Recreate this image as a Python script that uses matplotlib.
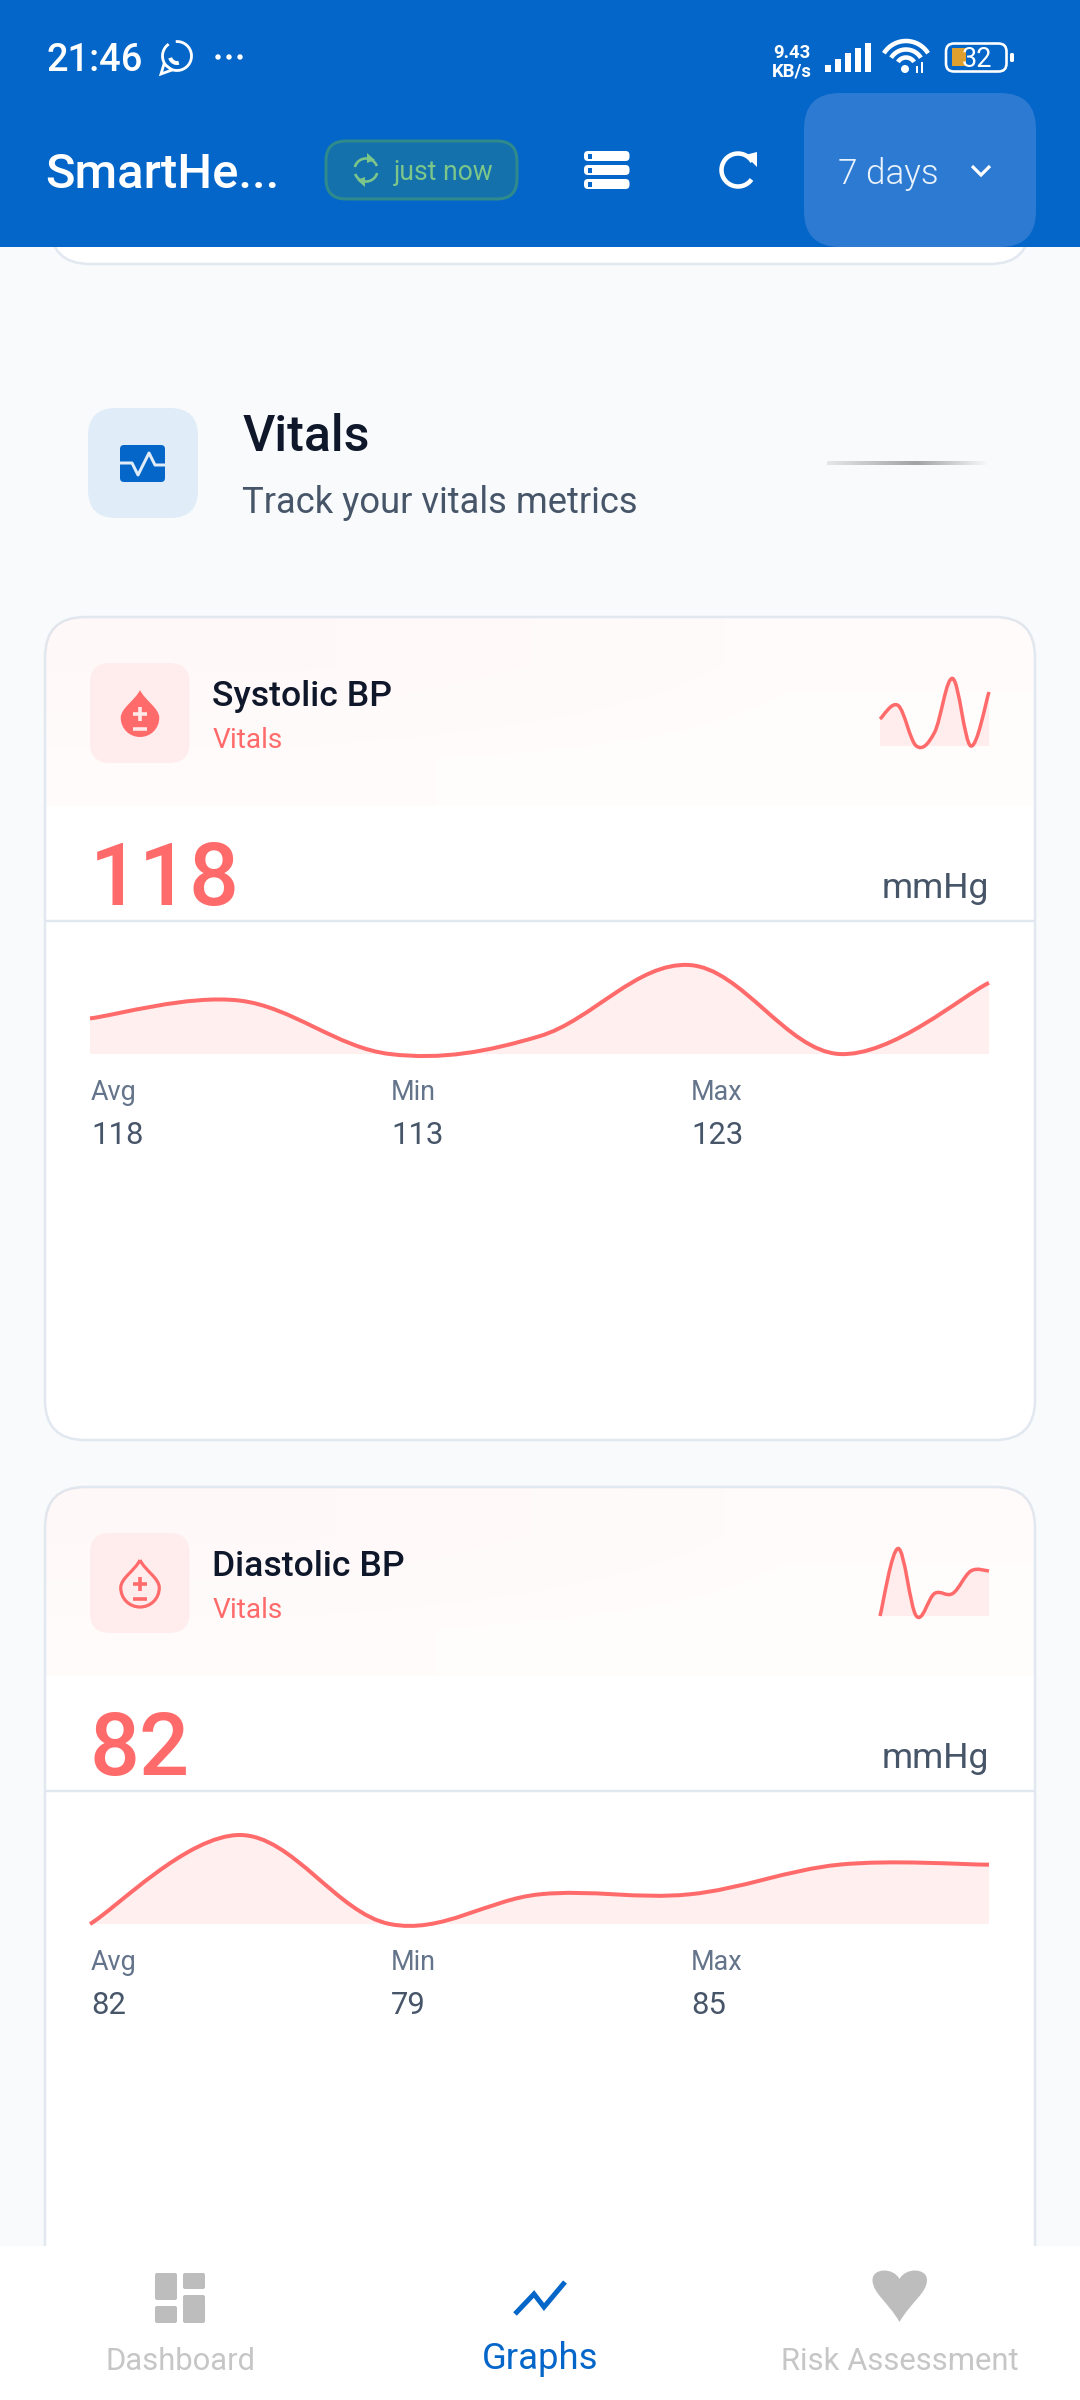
import numpy as np
import matplotlib
matplotlib.use('Agg')
import matplotlib.pyplot as plt
from matplotlib.patches import FancyBboxPatch, PathPatch, Circle, Polygon, Rectangle
from matplotlib.path import Path

plt.rcParams['font.family'] = ['Roboto', 'DejaVu Sans']

# values, one per day
days = [0, 1, 2, 3, 4, 5, 6]
systolic = [117, 119, 113, 115, 123, 113, 121]
diastolic = [79, 85, 79, 81, 81, 83, 83]
stat_labels = ['Avg', 'Min', 'Max']
systolic_stats = ['118', '113', '123']
diastolic_stats = ['82', '79', '85']

BLUE = '#0466C8'
RED = '#FF6B6B'
DARK = '#0F172A'
SLATE = '#475569'
MUTED = '#64748B'
BORDER = '#E2E8F0'
GREY_ICON = '#BDBDBD'
GREY_TEXT = '#C6C6C6'

fig = plt.figure(figsize=(10.8, 24), dpi=100, facecolor='#F8FAFC')
ax = fig.add_axes([0, 0, 1, 1])
ax.set_xlim(0, 1080)
ax.set_ylim(2400, 0)
ax.axis('off')


def txt(x, y, s, size, color, weight=400, ha='left', z=5, a=ax):
    return a.text(x, y, s, fontsize=size * 0.72, color=color, fontweight=weight,
                  ha=ha, va='baseline', zorder=z)


def box(x0, y0, x1, y1, r, fc, ec='none', lw=0, z=2):
    p = FancyBboxPatch((x0, y0), x1 - x0, y1 - y0, boxstyle=f'round,pad=0,rounding_size={r}',
                       fc=fc, ec=ec, lw=lw * 0.72, zorder=z)
    ax.add_patch(p)
    return p


def stroke(xs, ys, color, lw, z=6, cap='round', join='round'):
    ax.plot(xs, ys, color=color, lw=lw * 0.72, zorder=z, solid_capstyle=cap, solid_joinstyle=join)


def arc(cx, cy, r, a0, a1, color, lw, z=6):
    t = np.radians(np.linspace(a0, a1, 50))
    stroke(cx + r * np.cos(t), cy - r * np.sin(t), color, lw, z, cap='butt')


def smooth_path(x, y, closed_to=None):
    # same curve the app draws: cubic segments with tangents from the neighbours
    k = 0.35 / 2
    verts = [(x[0], y[0])]
    codes = [Path.MOVETO]
    n = len(x)
    for i in range(n - 1):
        a = max(i - 1, 0)
        b = min(i + 2, n - 1)
        c1 = (x[i] + (x[i + 1] - x[a]) * k, y[i] + (y[i + 1] - y[a]) * k)
        c2 = (x[i + 1] - (x[b] - x[i]) * k, y[i + 1] - (y[b] - y[i]) * k)
        verts += [c1, c2, (x[i + 1], y[i + 1])]
        codes += [Path.CURVE4] * 3
    if closed_to is not None:
        verts += [(x[-1], closed_to), (x[0], closed_to), (x[0], y[0])]
        codes += [Path.LINETO, Path.LINETO, Path.CLOSEPOLY]
    return Path(verts, codes)


def area_chart(x0, y0, x1, y1, values, lw):
    # x0..y1 in screen pixels; scales come from the values
    c = fig.add_axes([x0 / 1080, 1 - y1 / 2400, (x1 - x0) / 1080, (y1 - y0) / 2400])
    c.set_xlim(days[0], days[-1])
    c.set_ylim(min(values), max(values))
    c.axis('off')
    c.patch.set_alpha(0)
    c.add_patch(PathPatch(smooth_path(days, values, closed_to=min(values)), fc=RED, alpha=0.1, ec='none', clip_on=False))
    c.add_patch(PathPatch(smooth_path(days, values), fc='none', ec=RED, lw=lw * 0.72, clip_on=False, capstyle='butt'))


def drop(cx, top, bot, filled):
    w = (bot - top) * 0.41
    cy = bot - w
    pts = [(cx, top), (cx + w * 0.25, top + (bot - top) * 0.22), (cx + w, cy - w * 0.5), (cx + w, cy),
           (cx + w, cy + w * 0.56), (cx + w * 0.56, bot), (cx, bot),
           (cx - w * 0.56, bot), (cx - w, cy + w * 0.56), (cx - w, cy),
           (cx - w, cy - w * 0.5), (cx - w * 0.25, top + (bot - top) * 0.22), (cx, top)]
    codes = [Path.MOVETO] + [Path.CURVE4] * 12
    if filled:
        ax.add_patch(PathPatch(Path(pts, codes), fc=RED, ec='none', zorder=6))
        col = '#FFE9E9'
    else:
        ax.add_patch(PathPatch(Path(pts, codes), fc='none', ec=RED, lw=3.2 * 0.72, zorder=6))
        col = RED
    my = top + (bot - top) * 0.5
    stroke([cx - 7, cx + 7], [my, my], col, 3.6, 7, cap='butt')
    stroke([cx, cx], [my - 7, my + 7], col, 3.6, 7, cap='butt')
    stroke([cx - 7, cx + 7], [my + 15, my + 15], col, 3.6, 7, cap='butt')


def metric_card(top, bottom, name, filled, values, stats, big):
    x0, x1 = 45, 1035
    card = box(x0, top, x1, bottom, 40, 'white', BORDER, 2.5, z=2)
    grad = np.zeros((2, 2, 4))
    grad[..., :3] = matplotlib.colors.to_rgb(RED)
    grad[..., 3] = [[0.045, 0.025], [0.025, 0.02]]
    im = ax.imshow(grad, extent=(x0 + 1, x1 - 1, top + 189, top + 1), aspect='auto',
                   interpolation='bilinear', zorder=2.5)
    im.set_clip_path(card)
    ax.set_xlim(0, 1080)
    ax.set_ylim(2400, 0)

    box(90, top + 46, 189.5, top + 146, 20, '#FFEDED', z=3)
    drop(140, top + 73, top + 120, filled)
    txt(212.5, top + 89, name, 35.5, DARK, 500)
    txt(212.5, top + 130.5, 'Vitals', 28, RED)
    txt(90, top + 288, big, 88, RED, 500)
    txt(989, top + 281, 'mmHg', 35.5, SLATE, ha='right')
    ax.plot([x0 + 1, x1 - 1], [top + 303.5, top + 303.5], color=BORDER, lw=2.5 * 0.72, zorder=3)

    area_chart(90, top + 348, 989, top + 437, values, 4)
    area_chart(880, top + 61.5, 989, top + 129, values, 3.5)

    for lab, val, x in zip(stat_labels, stats, [91, 391, 691]):
        txt(x, top + 483, lab, 27, MUTED)
        txt(x, top + 527, val, 31, SLATE)


# card that scrolled under the app bar
box(50, -100, 1030, 264, 40, 'white', BORDER, 2.5, z=1)

# vitals section heading
box(88, 408, 198, 518, 28, '#E0ECF8')
box(120, 445, 165, 482, 4, BLUE, z=3)
stroke([120, 132, 138, 149, 155, 165], [463, 463, 475, 453, 465, 465], '#E0ECF8', 3, z=4)
txt(242.5, 451, 'Vitals', 50, DARK, 500)
txt(242.5, 513, 'Track your vitals metrics', 36.4, SLATE)
line = np.zeros((1, 60, 4))
line[..., :3] = 0.45
line[0, :, 3] = np.interp(np.linspace(0, 1, 60), [0, 0.55, 1], [0.15, 0.65, 0])
ax.imshow(line, extent=(827, 990, 465, 461), aspect='auto', zorder=3)
ax.set_xlim(0, 1080)
ax.set_ylim(2400, 0)

metric_card(617, 1440, 'Systolic BP', True, systolic, systolic_stats, '118')
metric_card(1487, 2600, 'Diastolic BP', False, diastolic, diastolic_stats, '82')

# app bar
ax.add_patch(Rectangle((0, 0), 1080, 247, fc=BLUE, ec='none', zorder=10))
txt(47, 71, '21:46', 38, 'white', 500, z=12)
arc(177, 56, 14.5, -235, 95, 'white', 2.8, z=12)
ax.add_patch(Polygon([(164, 64), (161, 74), (172, 70)], fc=BLUE, ec='white', lw=2, zorder=12))
arc(177, 56, 7, 195, 285, 'white', 4, z=12)
for x in [218, 229, 240]:
    ax.add_patch(Circle((x, 57), 2.7, fc='white', zorder=12))
txt(792, 58, '9.43', 18.5, 'white', 700, ha='center', z=12)
txt(792, 77, 'KB/s', 18.5, 'white', 700, ha='center', z=12)
for i, h in enumerate([7, 13, 19, 24, 29]):
    ax.add_patch(Rectangle((825 + i * 10, 72 - h), 6, h, fc='white', ec='none', zorder=12))
for r, lw in [(26, 4.5), (17.5, 4.5), (9.5, 4.5)]:
    arc(906, 67, r, 32, 148, 'white', lw, z=12)
ax.add_patch(Circle((905, 69), 4, fc='white', zorder=12))
stroke([922, 922], [62, 73], 'white', 2, z=12, cap='butt')
stroke([917, 917], [66, 73], 'white', 2, z=12, cap='butt')
box(946, 43.5, 1006.5, 71.5, 8, 'none', 'white', 2.6, z=12)
ax.add_patch(Rectangle((952, 48), 14, 18, fc='#E0A030', ec='none', zorder=12))
txt(977, 67, '32', 27, 'white', 400, ha='center', z=13)
box(1010, 53, 1014, 62, 1.5, 'white', z=12)

txt(45, 188, 'SmartHe...', 49, 'white', 500, z=12)
box(326, 141, 517, 199, 20, '#1471AB', '#2F8A8C', 3, z=11)
arc(366, 170, 11.5, 20, 165, '#7CC68A', 2.6, z=12)
arc(366, 170, 11.5, 200, 345, '#7CC68A', 2.6, z=12)
ax.add_patch(Polygon([(367, 153), (367, 163), (375, 160)], fc='#7CC68A', zorder=12))
ax.add_patch(Polygon([(365, 187), (365, 177), (357, 180)], fc='#7CC68A', zorder=12))
txt(394, 180, 'just now', 26.5, '#7CC68A', z=12)
for y in [151, 165, 179]:
    box(584, y, 629.5, y + 10, 4, 'white', z=12)
    ax.add_patch(Rectangle((588, y + 2.5), 4, 5, fc=BLUE, ec='none', zorder=13))
arc(738, 170, 16.5, 30, 325, 'white', 4.5, z=12)
ax.add_patch(Polygon([(745, 155), (757, 152), (757, 167)], fc='white', zorder=12))
box(804, 93, 1036, 247, 36, '#2C7AD2', z=11)
txt(838, 184, '7 days', 35, '#EAF2FB', 300, z=12)
stroke([972, 981, 990], [166, 175, 166], 'white', 3.2, z=12, join='miter', cap='butt')

# bottom navigation
ax.add_patch(Rectangle((0, 2246), 1080, 154, fc='white', ec='none', zorder=10))
for x0, y0, x1, y1 in [(155, 2273, 177, 2300), (183, 2273, 205, 2289), (155, 2306, 177, 2323), (183, 2295, 205, 2323)]:
    box(x0, y0, x1, y1, 2, GREY_ICON, z=11)
stroke([515, 534, 544, 565], [2314, 2294, 2307, 2282], BLUE, 5, z=11, cap='butt', join='miter')
heart = [(899.5, 2322), (888, 2302), (872.5, 2293), (872.5, 2280), (872.5, 2268), (893, 2267), (899.5, 2279),
         (906, 2267), (927, 2268), (927, 2280), (927, 2293), (911, 2302), (899.5, 2322)]
ax.add_patch(PathPatch(Path(heart, [Path.MOVETO] + [Path.CURVE4] * 12), fc=GREY_ICON, ec='none', zorder=11))
txt(180, 2370.5, 'Dashboard', 31, GREY_TEXT, ha='center', z=11)
txt(540.5, 2369, 'Graphs', 36.5, BLUE, ha='center', z=11)
txt(899.5, 2370.5, 'Risk Assessment', 31, GREY_TEXT, ha='center', z=11)

fig.savefig('out.png', dpi=100, facecolor=fig.get_facecolor())
